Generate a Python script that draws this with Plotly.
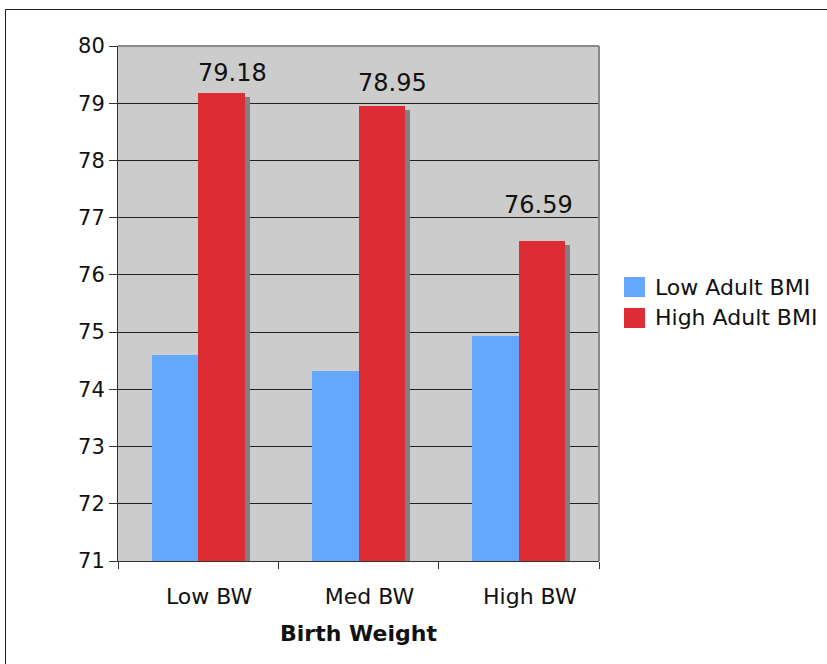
import plotly.graph_objects as go

# ---- data ----
categories = ["Low BW", "Med BW", "High BW"]
series_names = ["Low Adult BMI", "High Adult BMI"]
low_bmi = [74.60, 74.32, 74.93]
high_bmi = [79.18, 78.95, 76.59]
y_ticks = [71, 72, 73, 74, 75, 76, 77, 78, 79, 80]
x_title = "Birth Weight"

# ---- styles ----
BLUE = "#63a8fe"
RED = "#dd2c33"
SHADOW = "#808080"
FONT = "DejaVu Sans, Verdana, sans-serif"
W, H = 827, 664
L, R, T, B = 118, 228, 46, 103
PW, PH = W - L - R, H - T - B

def px2x(px):
    return (px - L) / PW

def py2y(py):
    return (H - B - py) / PH

bw = 0.29          # bar width in category units
shadow_dx = 0.031  # shadow horizontal offset (category units)
shadow_dy = 0.07   # shadow vertical drop (value units)

fig = go.Figure()
fig.add_trace(go.Bar(x=categories, y=[v - 71 for v in low_bmi], base=71,
                     width=bw, offset=-bw, marker=dict(color=BLUE, line=dict(width=0)),
                     name=series_names[0], showlegend=False))
fig.add_trace(go.Bar(x=categories, y=[v - shadow_dy - 71 for v in high_bmi], base=71,
                     width=bw, offset=shadow_dx, marker=dict(color=SHADOW, line=dict(width=0)),
                     showlegend=False, hoverinfo="skip"))
fig.add_trace(go.Bar(x=categories, y=[v - 71 for v in high_bmi], base=71,
                     width=bw, offset=0, marker=dict(color=RED, line=dict(width=0)),
                     name=series_names[1], showlegend=False))

# value labels above red bars
label_dx = [34, 34, 20]
label_dy = [20, 23, 36]
annotations = []
for c, v, dx, dy in zip(categories, high_bmi, label_dx, label_dy):
    annotations.append(dict(x=c, y=v, xref="x", yref="y", text=f"{v:.2f}",
                            showarrow=False, xshift=dx, yshift=dy,
                            xanchor="center", yanchor="middle",
                            font=dict(family=FONT, size=24, color="#111")))

# manual legend
shapes = []
legend_rows = [287, 318]
for name, col, ry in zip(series_names, [BLUE, RED], legend_rows):
    shapes.append(dict(type="rect", xref="paper", yref="paper",
                       x0=px2x(624), x1=px2x(645), y0=py2y(ry + 10), y1=py2y(ry - 10),
                       fillcolor=col, line=dict(width=0)))
    annotations.append(dict(x=px2x(653), y=py2y(ry), xref="paper", yref="paper",
                            text=name, showarrow=False, xanchor="left", yanchor="middle",
                            font=dict(family=FONT, size=22, color="#111")))

# plot frame top / right (gray)
shapes.append(dict(type="line", xref="paper", yref="paper", x0=0, x1=1, y0=1, y1=1,
                   line=dict(color="#888888", width=2)))
shapes.append(dict(type="line", xref="paper", yref="paper", x0=1, x1=1, y0=0, y1=1,
                   line=dict(color="#888888", width=2)))
# outer border
shapes.append(dict(type="rect", xref="paper", yref="paper",
                   x0=px2x(5.5), x1=px2x(900), y0=py2y(700), y1=py2y(9.5),
                   line=dict(color="#222222", width=1), fillcolor="rgba(0,0,0,0)", layer="below"))

fig.update_layout(
    width=W, height=H,
    margin=dict(l=L, r=R, t=T, b=B),
    paper_bgcolor="white",
    plot_bgcolor="#cccccc",
    barmode="overlay",
    bargap=0,
    showlegend=False,
    font=dict(family=FONT, color="#111"),
    shapes=shapes,
    annotations=annotations,
    xaxis=dict(
        range=[-0.5, 2.5],
        showgrid=False,
        showline=True, linecolor="#333", linewidth=1,
        ticks="outside", tickson="boundaries", ticklen=7, tickcolor="#333",
        tickfont=dict(family=FONT, size=22, color="#111"),
        ticklabelshift=11,
        ticklabelstandoff=16,
        title=dict(text=f"<b>{x_title}</b>", font=dict(family=FONT, size=22, color="#111"),
                   standoff=17),
        fixedrange=True,
    ),
    yaxis=dict(
        range=[71, 80],
        tickvals=y_ticks,
        showgrid=True, gridcolor="#222", gridwidth=1,
        showline=True, linecolor="#333", linewidth=1,
        ticks="outside", ticklen=8, tickcolor="#333",
        tickfont=dict(family=FONT, size=21, color="#111"),
        zeroline=False,
        fixedrange=True,
    ),
)

fig.write_html("out.html", config={"displayModeBar": False},
               post_script="document.body.style.margin='0';document.body.style.overflow='hidden';")
